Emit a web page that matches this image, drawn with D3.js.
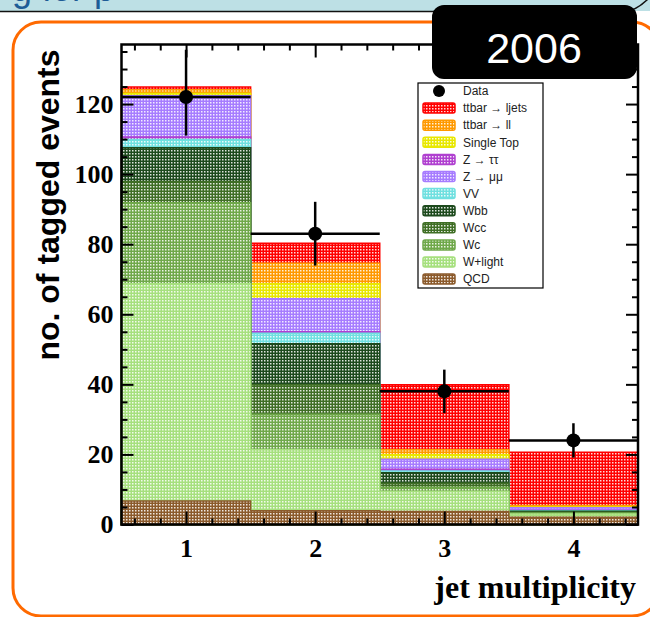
<!DOCTYPE html>
<html>
<head>
<meta charset="utf-8">
<script src="https://cdn.jsdelivr.net/npm/d3@7"></script>
<style>
  body { margin: 0; background: #fff; overflow: hidden; }
  svg { display: block; }
</style>
</head>
<body>
<svg id="chart" width="650" height="617"></svg>
<script>
// jet multiplicity bins
const bins = [1, 2, 3, 4];
const yMajorTicks = [0, 20, 40, 60, 80, 100, 120];

// stacked backgrounds, bottom to top
const qcd       = [6.7, 3.9, 3.7, 2.1];
const wLight    = [62.0, 17.4, 5.7, 0.9];
const wc        = [23.1, 10.2, 1.2, 0.3];
const wcc       = [6.1, 8.4, 1.2, 0.2];
const wbb       = [9.6, 11.7, 3.0, 0.3];
const vv        = [2.4, 3.0, 0.5, 0.1];
const zTauTau   = [0.7, 0.4, 0.5, 0.1];
const zMuMu     = [11.8, 9.4, 2.8, 0.8];
const singleTop = [0.6, 4.3, 1.3, 0.2];
const ttDilep   = [1.1, 5.9, 1.4, 0.4];
const ttLjets   = [0.8, 5.7, 18.6, 15.2];

// observed data
const dataCounts  = [122, 83, 38, 24];
const dataErrLow  = [11.0, 9.1, 6.2, 4.9];
const dataErrHigh = [13.5, 9.1, 6.2, 4.9];

const seriesKeys = ["qcd", "wLight", "wc", "wcc", "wbb", "vv", "zTauTau", "zMuMu", "singleTop", "ttDilep", "ttLjets"];
const seriesNames = ["QCD", "W+light", "Wc", "Wcc", "Wbb", "VV", "Z \u2192 \u03c4\u03c4", "Z \u2192 \u03bc\u03bc", "Single Top", "ttbar \u2192 ll", "ttbar \u2192 ljets"];
const seriesValues = [qcd, wLight, wc, wcc, wbb, vv, zTauTau, zMuMu, singleTop, ttDilep, ttLjets];
const seriesColors = ["#8b5a2b", "#a6e07e", "#6fa84a", "#3f6e25", "#1d4a1d", "#6fe0e0", "#b040d0", "#a67cff", "#e8e800", "#ff9900", "#ff0000"];
// order of the entries in the legend box
const legendOrder = ["ttLjets", "ttDilep", "singleTop", "zTauTau", "zMuMu", "vv", "wbb", "wcc", "wc", "wLight", "qcd"];

const svg = d3.select("#chart");

// ---- slide decoration ----
svg.append("rect").attr("x", 0).attr("y", 0).attr("width", 650).attr("height", 11).attr("fill", "#bde0e5");
svg.append("clipPath").attr("id", "bandClip")
    .append("rect").attr("x", 0).attr("y", 0).attr("width", 650).attr("height", 11);
svg.append("text")
    .attr("clip-path", "url(#bandClip)")
    .attr("x", 12).attr("y", 1)
    .attr("font-family", "Liberation Sans, Arial, sans-serif")
    .attr("font-size", 36)
    .attr("fill", "#1d5c96")
    .text("g for p");
svg.append("path")
    .attr("d", "M0,11.5 H624 Q636,11.5 650,-3")
    .attr("fill", "none").attr("stroke", "#111").attr("stroke-width", 1.5);
// orange slide box, its right side runs off the page
svg.append("path")
    .attr("d", "M660,588 A28,28 0 0 1 632,616 H41 A28,28 0 0 1 13,588 V50 A28,28 0 0 1 41,22 H632 A28,28 0 0 1 660,50")
    .attr("fill", "none").attr("stroke", "#ff6a00").attr("stroke-width", 3);

// ---- plot area ----
const plot = { left: 121.5, right: 638, top: 44.5, bottom: 524.5 };

const x = d3.scaleLinear().domain([0.5, 4.5]).range([plot.left, plot.right]);
const y = d3.scaleLinear().domain([0, 137]).range([plot.bottom, plot.top]);

// hatched fill patterns
const defs = svg.append("defs");
seriesColors.forEach((c, i) => {
    const p = defs.append("pattern")
        .attr("id", "pat" + i)
        .attr("patternUnits", "userSpaceOnUse")
        .attr("width", 3).attr("height", 3);
    p.append("rect").attr("width", 3).attr("height", 3).attr("fill", c);
    p.append("rect").attr("width", 1.5).attr("height", 1.5).attr("fill", "#fff").attr("opacity", 0.85);
});

const rows = bins.map((b, i) => {
    const r = { bin: b };
    seriesKeys.forEach((k, j) => r[k] = seriesValues[j][i]);
    return r;
});
const stacked = d3.stack().keys(seriesKeys)(rows);

const area = d3.area()
    .x(d => x(d[0]))
    .y0(y(0))
    .y1(d => y(d[1]));

// draw from the full sum downwards, like a THStack
stacked.slice().reverse().forEach(s => {
    const idx = seriesKeys.indexOf(s.key);
    const pts = [];
    s.forEach(d => {
        pts.push([d.data.bin - 0.5, d[1]]);
        pts.push([d.data.bin + 0.5, d[1]]);
    });
    svg.append("path")
        .datum(pts)
        .attr("d", area)
        .attr("fill", "url(#pat" + idx + ")")
        .attr("stroke", seriesColors[idx])
        .attr("stroke-width", 1.5);
});

// data points with error bars
const dataG = svg.append("g");
bins.forEach((b, i) => {
    dataG.append("line")
        .attr("x1", x(b - 0.5)).attr("x2", x(b + 0.5))
        .attr("y1", y(dataCounts[i])).attr("y2", y(dataCounts[i]))
        .attr("stroke", "#000").attr("stroke-width", 2.5);
    dataG.append("line")
        .attr("x1", x(b)).attr("x2", x(b))
        .attr("y1", y(dataCounts[i] + dataErrHigh[i]))
        .attr("y2", y(dataCounts[i] - dataErrLow[i]))
        .attr("stroke", "#000").attr("stroke-width", 2.5);
    dataG.append("circle")
        .attr("cx", x(b)).attr("cy", y(dataCounts[i]))
        .attr("r", 7).attr("fill", "#000");
});

// frame
svg.append("rect")
    .attr("x", plot.left).attr("y", plot.top)
    .attr("width", plot.right - plot.left).attr("height", plot.bottom - plot.top)
    .attr("fill", "none").attr("stroke", "#000").attr("stroke-width", 2.5);

// axes
const yMinor = d3.range(5, 137, 5).filter(v => v % 20 !== 0);
const xMinor = d3.range(0.6, 4.45, 0.2).filter(v => Math.abs(v - Math.round(v)) > 0.05);

function styleAxis(g) {
    g.select(".domain").remove();
    g.selectAll(".tick line").attr("stroke", "#000").attr("stroke-width", 2);
}

svg.append("g")
    .attr("transform", `translate(${plot.left},0)`)
    .call(d3.axisLeft(y).tickValues(yMajorTicks).tickSizeInner(-12).tickSizeOuter(0).tickPadding(8))
    .call(styleAxis)
    .selectAll("text")
    .attr("font-family", "Liberation Serif, Times New Roman, serif")
    .attr("font-weight", "bold")
    .attr("font-size", 26)
    .attr("fill", "#000");
svg.append("g")
    .attr("transform", `translate(${plot.left},0)`)
    .call(d3.axisLeft(y).tickValues(yMinor).tickSizeInner(-6).tickSizeOuter(0).tickFormat(""))
    .call(styleAxis);
svg.append("g")
    .attr("transform", `translate(${plot.right},0)`)
    .call(d3.axisRight(y).tickValues(yMajorTicks).tickSizeInner(-12).tickSizeOuter(0).tickFormat(""))
    .call(styleAxis);
svg.append("g")
    .attr("transform", `translate(${plot.right},0)`)
    .call(d3.axisRight(y).tickValues(yMinor).tickSizeInner(-6).tickSizeOuter(0).tickFormat(""))
    .call(styleAxis);

svg.append("g")
    .attr("transform", `translate(0,${plot.bottom})`)
    .call(d3.axisBottom(x).tickValues(bins).tickSizeInner(-13).tickSizeOuter(0).tickPadding(14).tickFormat(d3.format("d")))
    .call(styleAxis)
    .selectAll("text")
    .attr("font-family", "Liberation Serif, Times New Roman, serif")
    .attr("font-weight", "bold")
    .attr("font-size", 26)
    .attr("fill", "#000");
svg.append("g")
    .attr("transform", `translate(0,${plot.bottom})`)
    .call(d3.axisBottom(x).tickValues(xMinor).tickSizeInner(-6).tickSizeOuter(0).tickFormat(""))
    .call(styleAxis);
svg.append("g")
    .attr("transform", `translate(0,${plot.top})`)
    .call(d3.axisTop(x).tickValues(bins).tickSizeInner(-13).tickSizeOuter(0).tickFormat(""))
    .call(styleAxis);
svg.append("g")
    .attr("transform", `translate(0,${plot.top})`)
    .call(d3.axisTop(x).tickValues(xMinor).tickSizeInner(-6).tickSizeOuter(0).tickFormat(""))
    .call(styleAxis);

// axis titles
svg.append("text")
    .attr("transform", "translate(59,205) rotate(-90)")
    .attr("text-anchor", "middle")
    .attr("font-family", "Liberation Sans, Arial, sans-serif")
    .attr("font-weight", "bold")
    .attr("font-size", 32)
    .attr("fill", "#000")
    .text("no. of tagged events");
svg.append("text")
    .attr("x", 636).attr("y", 598)
    .attr("text-anchor", "end")
    .attr("font-family", "Liberation Serif, Times New Roman, serif")
    .attr("font-weight", "bold")
    .attr("font-size", 32)
    .attr("fill", "#000")
    .text("jet multiplicity");

// legend
const leg = svg.append("g");
leg.append("rect")
    .attr("x", 418).attr("y", 83).attr("width", 125).attr("height", 205)
    .attr("fill", "#fff").attr("stroke", "#000").attr("stroke-width", 1.2);
const rowH = 17.1;
leg.append("circle").attr("cx", 439).attr("cy", 91).attr("r", 6).attr("fill", "#000");
leg.append("text")
    .attr("x", 463).attr("y", 91).attr("dy", "0.35em")
    .attr("font-family", "Liberation Sans, Arial, sans-serif")
    .attr("font-size", 12).attr("fill", "#222")
    .text("Data");
legendOrder.forEach((k, j) => {
    const idx = seriesKeys.indexOf(k);
    const cy = 91 + (j + 1) * rowH;
    leg.append("rect")
        .attr("x", 423).attr("y", cy - 5).attr("width", 32).attr("height", 10).attr("rx", 2)
        .attr("fill", "url(#pat" + idx + ")")
        .attr("stroke", seriesColors[idx]).attr("stroke-width", 1.5);
    leg.append("text")
        .attr("x", 463).attr("y", cy).attr("dy", "0.35em")
        .attr("font-family", "Liberation Sans, Arial, sans-serif")
        .attr("font-size", 12).attr("fill", "#222")
        .text(seriesNames[idx]);
});

// year badge
svg.append("rect")
    .attr("x", 432).attr("y", 5).attr("width", 205).attr("height", 74).attr("rx", 12)
    .attr("fill", "#000");
svg.append("text")
    .attr("x", 534).attr("y", 63)
    .attr("text-anchor", "middle")
    .attr("font-family", "Liberation Sans, Arial, sans-serif")
    .attr("font-size", 43)
    .attr("fill", "#fff")
    .text("2006");
</script>
</body>
</html>
